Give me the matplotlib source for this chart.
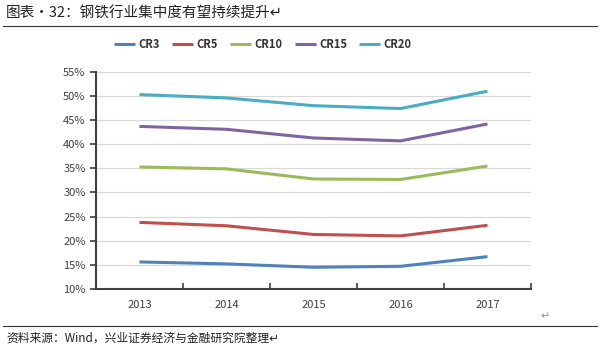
import matplotlib
matplotlib.use("Agg")
import matplotlib.pyplot as plt
from matplotlib.ticker import FuncFormatter, FixedLocator

plt.rcParams['font.family'] = ['Noto Sans CJK SC', 'DejaVu Sans']

years = ['2013', '2014', '2015', '2016', '2017']
series_names = ['CR3', 'CR5', 'CR10', 'CR15', 'CR20']
cr3 = [15.6, 15.2, 14.5, 14.7, 16.7]
cr5 = [23.8, 23.1, 21.3, 21.0, 23.2]
cr10 = [35.3, 34.9, 32.8, 32.7, 35.5]
cr15 = [43.7, 43.1, 41.3, 40.7, 44.2]
cr20 = [50.3, 49.6, 48.0, 47.4, 51.0]
colors = ['#4F81BD', '#C0504D', '#9BBB59', '#8064A2', '#4BACC6']
yticks = [10, 15, 20, 25, 30, 35, 40, 45, 50, 55]

fig = plt.figure(figsize=(6.0, 3.49), dpi=100)
ax = fig.add_axes([0.16, 0.172, 0.725, 0.622])

x = list(range(len(years)))
for name, vals, c in zip(series_names, [cr3, cr5, cr10, cr15, cr20], colors):
    ax.plot(x, vals, color=c, lw=2.2, label=name, solid_capstyle='butt')

ax.set_xlim(-0.5, len(years) - 0.5)
ax.set_ylim(10, 55)
ax.set_yticks(yticks)
ax.yaxis.set_major_formatter(FuncFormatter(lambda v, p: f"{int(v)}%"))
ax.grid(axis='y', color='#D9D9D9', lw=0.9)
ax.set_axisbelow(True)

ax.set_xticks(x)
ax.set_xticklabels(years)
ax.xaxis.set_minor_locator(FixedLocator([i + 0.5 for i in range(len(years))]))
ax.tick_params(axis='x', which='major', length=0, pad=8, labelsize=8, colors='#404040')
ax.tick_params(axis='x', which='minor', length=4, width=1.2, color='#404040', direction='in')
ax.tick_params(axis='y', length=4, width=1.2, color='#404040', labelsize=8, labelcolor='#404040')

for s in ['top', 'right']:
    ax.spines[s].set_visible(False)
for s in ['left', 'bottom']:
    ax.spines[s].set_color('#404040')
    ax.spines[s].set_linewidth(1.5)

leg = fig.legend(loc='center', bbox_to_anchor=(0.438, 0.872), ncol=5, frameon=False,
                 fontsize=8, handlelength=1.9, columnspacing=1.1, handletextpad=0.3)
for t in leg.get_texts():
    t.set_fontweight('bold')
    t.set_color('#333333')
for h in leg.get_lines():
    h.set_linewidth(2.2)

fig.text(0.01, 0.962, '图表·32：钢铁行业集中度有望持续提升↵', fontsize=10.5,
         va='center', ha='left', color='#222222')
fig.add_artist(plt.Line2D([0.005, 0.995], [0.925, 0.925], color='#333333', lw=0.8))
fig.add_artist(plt.Line2D([0.005, 0.995], [0.066, 0.066], color='#333333', lw=0.8))
fig.text(0.01, 0.03, '资料来源：Wind，兴业证券经济与金融研究院整理↵', fontsize=8.5,
         va='center', ha='left', color='#222222')
fig.text(0.9, 0.095, '↵', fontsize=8, color='#999999', va='center')

fig.savefig('out.png', dpi=100)
